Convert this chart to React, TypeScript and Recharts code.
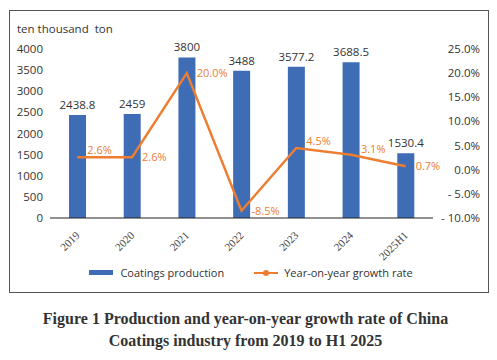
import React from 'react';
import { ComposedChart, Bar, Line, XAxis, YAxis, LabelList } from 'recharts';

const categories = ['2019', '2020', '2021', '2022', '2023', '2024', '2025H1'];
const production = [2438.8, 2459, 3800, 3488, 3577.2, 3688.5, 1530.4];
const growth = [2.6, 2.6, 20.0, -8.5, 4.5, 3.1, 0.7];
const leftTicks = [0, 500, 1000, 1500, 2000, 2500, 3000, 3500, 4000];
const rightTicks = [-10, -5, 0, 5, 10, 15, 20, 25];
const seriesNames = ['Coatings production', 'Year-on-year growth rate'];
const unitLabel = 'ten thousand  ton';
const titleLines = [
  'Figure 1 Production and year-on-year growth rate of China',
  'Coatings industry from 2019 to H1 2025',
];

// vertical nudges (px) for the growth-rate data labels (styling only)
const rateLabelNudge = [-7, 0, 0, 0, -7, -6, 0];

const data = categories.map((c, i) => ({ cat: c, prod: production[i], rate: growth[i] }));

const BLUE = '#3E6DB5';
const ORANGE = '#ED7D31';
const SANS = '"Open Sans", "Liberation Sans", sans-serif';
const TEXT = '#333333';

const fmtPct = (v: number) => (v < 0 ? '- ' + Math.abs(v).toFixed(1) + '%' : v.toFixed(1) + '%');

const XTick = (props: any) => {
  const { x, y, payload } = props;
  return (
    <text
      x={x + 3}
      y={y + 10}
      transform={`rotate(-45, ${x + 3}, ${y + 10})`}
      textAnchor="end"
      fontFamily='"Liberation Serif", serif'
      fontSize={11}
      fill="#444"
    >
      {payload.value}
    </text>
  );
};

const RightTick = (props: any) => {
  const { x, y, payload } = props;
  return (
    <text x={x + 45} y={y} dy={4} textAnchor="end" fontFamily={SANS} fontSize={11.5} fill={TEXT}>
      {fmtPct(payload.value)}
    </text>
  );
};

const RateLabel = (props: any) => {
  const { x, y, value, index } = props;
  const nudge = rateLabelNudge[index] ?? 0;
  return (
    <text x={x + 10} y={y + nudge} dy={4} textAnchor="start" fontFamily={SANS} fontSize={11} fill={ORANGE}>
      {value.toFixed(1) + '%'}
    </text>
  );
};

export default function App() {
  React.useEffect(() => {
    document.body.style.margin = '0';
  }, []);
  return (
    <div style={{ position: 'relative', width: 497, height: 360, background: '#fff', overflow: 'hidden' }}>
      <div
        style={{
          position: 'absolute',
          left: 9,
          top: 10,
          width: 478,
          height: 281,
          border: '1.5px solid #555',
        }}
      />
      <div
        style={{
          position: 'absolute',
          left: 17,
          top: 21,
          fontFamily: SANS,
          fontSize: 11.5,
          color: TEXT,
          whiteSpace: 'pre',
        }}
      >
        {unitLabel}
      </div>
      <div style={{ position: 'absolute', left: 0, top: 0 }}>
        <ComposedChart width={497} height={300} data={data} margin={{ top: 49, right: 10, bottom: 42, left: 0 }}>
          <XAxis
            dataKey="cat"
            yAxisId="left"
            tick={<XTick />}
            tickLine={false}
            axisLine={{ stroke: '#222', strokeWidth: 1 }}
            interval={0}
            height={40}
          />
          <YAxis
            yAxisId="left"
            orientation="left"
            domain={[0, 4000]}
            ticks={leftTicks}
            width={50}
            axisLine={false}
            tickLine={false}
            tickSize={0}
            tickMargin={7}
            tick={{ fontFamily: SANS, fontSize: 11.5, fill: TEXT }}
          />
          <YAxis
            yAxisId="right"
            orientation="right"
            domain={[-10, 25]}
            ticks={rightTicks}
            width={54}
            axisLine={false}
            tickLine={false}
            tickSize={0}
            tick={<RightTick />}
          />
          <Bar yAxisId="left" dataKey="prod" fill={BLUE} barSize={17} isAnimationActive={false}>
            <LabelList
              dataKey="prod"
              position="top"
              offset={6}
              style={{ fontFamily: SANS, fontSize: 11.5, fill: TEXT }}
            />
          </Bar>
          <Line
            yAxisId="right"
            dataKey="rate"
            stroke={ORANGE}
            strokeWidth={2.5}
            dot={false}
            isAnimationActive={false}
          >
            <LabelList dataKey="rate" content={<RateLabel />} />
          </Line>
        </ComposedChart>
      </div>
      <div
        style={{
          position: 'absolute',
          top: 265,
          left: 0,
          width: 502,
          display: 'flex',
          justifyContent: 'center',
          alignItems: 'center',
          fontFamily: SANS,
          fontSize: 11,
          color: TEXT,
        }}
      >
        <div style={{ display: 'flex', alignItems: 'center', marginRight: 30 }}>
          <div style={{ width: 24, height: 5, background: BLUE, marginRight: 7 }} />
          <span>{seriesNames[0]}</span>
        </div>
        <div style={{ display: 'flex', alignItems: 'center' }}>
          <svg width={24} height={10} style={{ marginRight: 6 }}>
            <line x1={0} y1={5} x2={24} y2={5} stroke={ORANGE} strokeWidth={2} />
            <circle cx={12} cy={5} r={3} fill={ORANGE} />
          </svg>
          <span>{seriesNames[1]}</span>
        </div>
      </div>
      <div
        style={{
          position: 'absolute',
          top: 308,
          left: 0,
          width: 491,
          textAlign: 'center',
          fontFamily: '"Liberation Serif", "Times New Roman", serif',
          fontWeight: 'bold',
          fontSize: 16,
          lineHeight: '22px',
          color: '#333',
        }}
      >
        <div>{titleLines[0]}</div>
        <div>{titleLines[1]}</div>
      </div>
    </div>
  );
}
